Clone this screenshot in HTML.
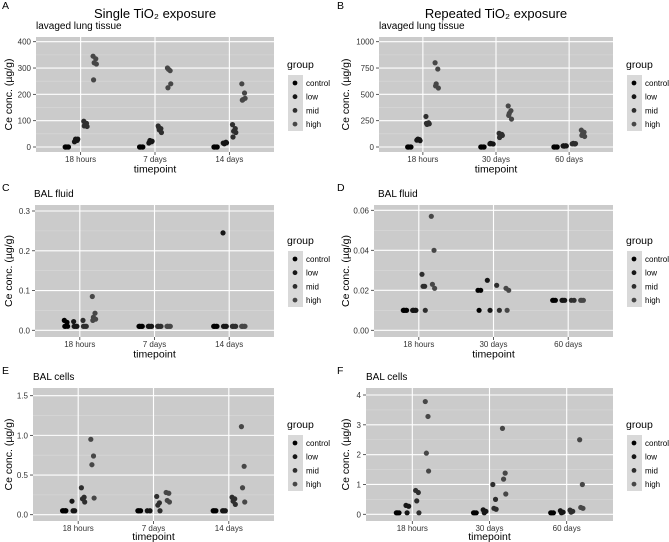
<!DOCTYPE html>
<html><head><meta charset="utf-8"><style>
body{margin:0;background:#fff;}
svg{display:block;font-family:"Liberation Sans","DejaVu Sans",sans-serif;}
</style></head><body>
<svg id="fig" width="669" height="542" xmlns="http://www.w3.org/2000/svg"></svg>
<script>
const groups = ["control","low","mid","high"];
const groupColors = ["#000000","#161616","#2e2e2e","#474747"];
const catsA = ["18 hours","7 days","14 days"];
const ticksA = [0,100,200,300,400];
const dataA = [
 [[0,0,0,0,0],[20,25,30,30,22],[98,90,85,78,80],[345,335,320,315,255]],
 [[0,0,0,0,0],[15,20,25,22,18],[80,70,65,55,75],[300,290,295,240,225]],
 [[0,0,0,0,0],[15,18,12,16,14],[85,70,60,55,38],[240,205,180,185,178]]];
const catsB = ["18 hours","30 days","60 days"];
const ticksB = [0,250,500,750,1000];
const dataB = [
 [[0,0,0,0,0],[65,70,75,60,68],[290,230,215,220,225],[800,740,600,560,580]],
 [[0,0,0,0,0],[30,30,32,28,35],[130,120,100,110,90],[390,345,320,265,300]],
 [[0,0,0,0,0],[10,12,8,10,12],[30,28,35,32,30],[160,140,120,100,110]]];
const ticksC = [0,0.1,0.2,0.3];
const dataC = [
 [[0.025,0.02,0.01,0.01,0.01],[0.022,0.01,0.01,0.01,0.01],[0.025,0.01,0.01,0.01,0.01],[0.085,0.043,0.033,0.028,0.025]],
 [[0.01,0.01,0.01,0.01,0.01],[0.01,0.01,0.01,0.01,0.01],[0.01,0.01,0.01,0.01,0.01],[0.01,0.01,0.01,0.01,0.01]],
 [[0.01,0.01,0.01,0.01,0.01],[0.245,0.01,0.01,0.01,0.01],[0.01,0.01,0.01,0.01,0.01],[0.01,0.01,0.01,0.01,0.01]]];
const ticksD = [0,0.02,0.04,0.06];
const dataD = [
 [[0.01,0.01,0.01,0.01,0.01],[0.01,0.01,0.01,0.01,0.01],[0.028,0.022,0.022,0.01],[0.057,0.04,0.023,0.021]],
 [[0.02,0.02,0.01],[0.025,0.01],[0.0225,0.01],[0.021,0.02,0.01]],
 [[0.015,0.015,0.015],[0.015,0.015,0.015],[0.015,0.015],[0.015,0.015,0.015]]];
const ticksE = [0,0.5,1,1.5];
const dataE = [
 [[0.05,0.05,0.05,0.05],[0.17,0.05,0.05],[0.34,0.22,0.2,0.16],[0.95,0.74,0.63,0.21]],
 [[0.05,0.05,0.05],[0.05,0.05],[0.23,0.15,0.12,0.05],[0.28,0.27,0.18,0.16]],
 [[0.05,0.05,0.05],[0.05,0.05,0.05],[0.22,0.2,0.17,0.13],[1.11,0.61,0.34,0.16]]];
const ticksF = [0,1,2,3,4];
const dataF = [
 [[0.05,0.05,0.05],[0.3,0.27,0.05],[0.8,0.73,0.45,0.05],[3.78,3.28,2.05,1.45]],
 [[0.05,0.05,0.05],[0.15,0.1,0.05],[1.0,0.5,0.2,0.17],[2.88,1.38,1.18,0.68]],
 [[0.05,0.05,0.05],[0.12,0.07,0.05],[0.14,0.1,0.07],[2.5,1.0,0.23,0.2]]];

const NS="http://www.w3.org/2000/svg";
const fig=document.getElementById('fig');
function el(tag,attrs,parent,text){const e=document.createElementNS(NS,tag);for(const k in attrs)e.setAttribute(k,attrs[k]);if(text!==undefined)e.textContent=text;(parent||fig).appendChild(e);return e;}
const jit=[-1.5,1.2,-0.4,1.8,-1.0];

function panel(cfg){
  const g=el('g',{});
  
  
  const {x0,x1,y0,y1}=cfg.rect;
  const ys=v=>cfg.pz+(v-cfg.ticks[0])*(cfg.pt-cfg.pz)/(cfg.ticks[cfg.ticks.length-1]-cfg.ticks[0]);
  const unit=(x1-x0)/3.2;
  const xs=i=>x0+unit*(0.6+i);
  const bg=el('rect',{x:x0,y:y0,width:x1-x0,height:y1-y0,fill:'#cbcbcb'},g);
  
  const step=cfg.ticks[1]-cfg.ticks[0];
  for(let i=0;i<cfg.ticks.length;i++){
    const ym=ys(cfg.ticks[i]+step/2);
    if(ym>y0) el('line',{x1:x0,x2:x1,y1:ym,y2:ym,stroke:'#dadada','stroke-width':0.6},g);
  }
  cfg.ticks.forEach((t,i)=>{
    const y=ys(t);
    el('line',{x1:x0,x2:x1,y1:y,y2:y,stroke:'#fff','stroke-width':1.1},g);
    el('line',{x1:x0-3,x2:x0,y1:y,y2:y,stroke:'#333','stroke-width':0.8},g);
    const tl=el('text',{x:x0-5,y:y+3,'font-size':8,'text-anchor':'end',fill:'#333'},g,cfg.labels[i]);
    
  });
  cfg.cats.forEach((c,i)=>{
    const x=xs(i);
    el('line',{x1:x,x2:x,y1:y0,y2:y1,stroke:'#fff','stroke-width':1.1},g);
    el('line',{x1:x,x2:x,y1:y1,y2:y1+3,stroke:'#333','stroke-width':0.8},g);
    const xl=el('text',{x:x,y:y1+10,'font-size':8,'text-anchor':'middle',fill:'#333'},g,c);
    
  });
  const offs=[-0.1875,-0.0625,0.0625,0.1875];
  cfg.data.forEach((cat,ci)=>cat.forEach((vals,gi)=>vals.forEach((v,k)=>{
    const p=el('circle',{cx:xs(ci)+offs[gi]*unit+jit[k%5],cy:ys(v),r:2.6,fill:groupColors[gi]},g);
    
    
  })));
  const xt=el('text',{x:(x0+x1)/2,y:Math.min(y1+20.5,540),'font-size':10.5,'text-anchor':'middle',fill:'#000'},g,'timepoint');
  
  const yc=(y0+y1)/2, yx=cfg.ytx;
  const yt=el('text',{x:yx,y:yc,'font-size':10.5,'text-anchor':'middle',transform:`rotate(-90 ${yx} ${yc})`},g,'Ce conc. (µg/g)');
  
  const st=el('text',{x:cfg.subx,y:y0-8,'font-size':10},g,cfg.sub);
  
  const lt=el('text',{x:cfg.ox+2,y:cfg.ly,'font-size':10.5},g,cfg.letter);
  
  const lg=el('g',{},g);
  
  const lx=cfg.lx, lyy=cfg.lgy;
  el('text',{x:lx-1,y:lyy,'font-size':10.5},lg,'group');
  el('rect',{x:lx,y:lyy+7,width:15,height:56,fill:'#d9d9d9'},lg);
  groups.forEach((gname,i)=>{
    const yy=lyy+15+i*13.7;
    const d=el('circle',{cx:lx+7,cy:yy,r:2.4,fill:groupColors[i]},lg);
    
    const t=el('text',{x:lx+18,y:yy+3,'font-size':8},lg,gname);
    
  });
}
panel({letter:'A',ox:0,ly:9,sub:'lavaged lung tissue',subx:36,rect:{x0:36,x1:274,y0:37,y1:152},pz:147,pt:41.7,ticks:ticksA,labels:ticksA.map(String),cats:catsA,data:dataA,ytx:12,lx:288,lgy:68});
panel({letter:'B',ox:335,ly:9,sub:'lavaged lung tissue',subx:379,rect:{x0:379,x1:613,y0:37,y1:152},pz:147,pt:41.7,ticks:ticksB,labels:ticksB.map(String),cats:catsB,data:dataB,ytx:349,lx:627,lgy:68});
panel({letter:'C',ox:0,ly:191,sub:'BAL fluid',subx:34,rect:{x0:35,x1:274,y0:205,y1:337},pz:330.3,pt:211,ticks:ticksC,labels:ticksC.map(v=>v.toFixed(1)),cats:catsA,data:dataC,ytx:12,lx:288,lgy:244});
panel({letter:'D',ox:335,ly:191,sub:'BAL fluid',subx:378,rect:{x0:374,x1:613,y0:205,y1:337},pz:330.3,pt:210.3,ticks:ticksD,labels:ticksD.map(v=>v.toFixed(2)),cats:catsB,data:dataD,ytx:349,lx:627,lgy:244});
panel({letter:'E',ox:0,ly:374,sub:'BAL cells',subx:33,rect:{x0:33,x1:274,y0:388,y1:521},pz:514.7,pt:395.7,ticks:ticksE,labels:ticksE.map(v=>v.toFixed(1)),cats:catsA,data:dataE,ytx:12,lx:288,lgy:428});
panel({letter:'F',ox:335,ly:374,sub:'BAL cells',subx:366,rect:{x0:366,x1:613,y0:388,y1:521},pz:514.3,pt:395,ticks:ticksF,labels:ticksF.map(String),cats:catsB,data:dataF,ytx:349,lx:627,lgy:428});
const t1=el('text',{x:155,y:18,'font-size':13,'text-anchor':'middle'},fig,'Single TiO₂ exposure');

const t2=el('text',{x:496,y:18,'font-size':13,'text-anchor':'middle'},fig,'Repeated TiO₂ exposure');

</script>
</body></html>
